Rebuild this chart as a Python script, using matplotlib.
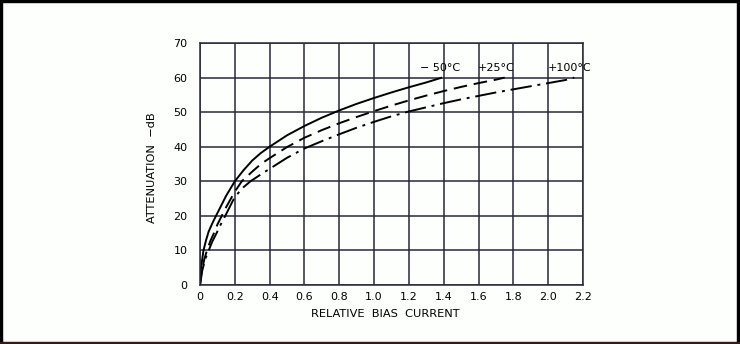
import matplotlib
matplotlib.use("Agg")
import matplotlib.pyplot as plt
from matplotlib.patches import Rectangle

# данные (ток смещения -> затухание, дБ)
bias_m50 = [0, 0.005, 0.01, 0.02, 0.035, 0.05, 0.075, 0.1, 0.15, 0.2, 0.25, 0.3, 0.35,
            0.4, 0.5, 0.6, 0.7, 0.8, 0.9, 1.0, 1.1, 1.2, 1.3, 1.39]
att_m50 = [0, 4.5, 6.5, 10, 13, 15.5, 18.3, 20.8, 25.8, 30, 33.2, 36, 38.2,
           40, 43.3, 46, 48.4, 50.5, 52.4, 54.1, 55.7, 57.2, 58.6, 60]

bias_p25 = [0, 0.01, 0.025, 0.04, 0.06, 0.08, 0.1, 0.125, 0.15, 0.2, 0.24, 0.3, 0.35,
            0.4, 0.5, 0.6, 0.7, 0.8, 0.9, 1.0, 1.1, 1.2, 1.3, 1.4, 1.5, 1.6, 1.7, 1.75]
att_p25 = [0, 4, 7.5, 10, 12.8, 15, 17.5, 20, 22.5, 27, 30, 32.8, 35,
           36.7, 39.9, 42.6, 44.8, 46.8, 48.6, 50.3, 51.9, 53.4, 54.8, 56.1, 57.3, 58.4, 59.4, 60]

bias_p100 = [0, 0.012, 0.03, 0.05, 0.07, 0.095, 0.12, 0.145, 0.2, 0.25, 0.29, 0.35, 0.4,
             0.5, 0.6, 0.7, 0.8, 0.9, 1.0, 1.1, 1.2, 1.3, 1.4, 1.5, 1.6, 1.7, 1.8, 1.9,
             2.0, 2.1, 2.15]
att_p100 = [0, 4, 7.5, 10, 12.5, 15, 17.6, 20, 25.5, 28.3, 30, 32, 33.6,
            36.8, 39.5, 41.6, 43.6, 45.5, 47.2, 48.8, 50.2, 51.4, 52.6, 53.7, 54.7, 55.7, 56.6, 57.5,
            58.4, 59.3, 60]

curve_labels = ["\u2212 50\u00b0C", "+25\u00b0C", "+100\u00b0C"]
label_x = [1.38, 1.70, 2.125]
label_y = 61.2

x_ticks = [0, 0.2, 0.4, 0.6, 0.8, 1.0, 1.2, 1.4, 1.6, 1.8, 2.0, 2.2]
x_tick_labels = ["0", "0.2", "0.4", "0.6", "0.8", "1.0", "1.2", "1.4", "1.6", "1.8", "2.0", "2.2"]
y_ticks = [0, 10, 20, 30, 40, 50, 60, 70]

bg = "#fcfffc"
grid_col = "#28283c"

fig = plt.figure(figsize=(7.4, 3.44), dpi=100, facecolor=bg)
ax = fig.add_axes([200 / 740, 59 / 344, 383 / 740, 242 / 344])
ax.set_facecolor(bg)

ax.plot(bias_m50, att_m50, color="black", lw=1.4, solid_capstyle="butt")
ax.plot(bias_p25, att_p25, color="black", lw=1.4, dashes=(7, 3.5))
ax.plot(bias_p100, att_p100, color="black", lw=1.4, dashes=(11, 3, 1.5, 3))

for lab, lx in zip(curve_labels, label_x):
    ax.text(lx, label_y, lab, ha="center", va="bottom", fontsize=8)

ax.set_xlim(0, 2.2)
ax.set_ylim(0, 70)
ax.set_xticks(x_ticks)
ax.set_xticklabels(x_tick_labels)
ax.set_yticks(y_ticks)
ax.tick_params(length=0, labelsize=8)
ax.tick_params(axis="x", pad=5)
ax.tick_params(axis="y", pad=9)
ax.grid(True, color=grid_col, lw=1.1)
for s in ax.spines.values():
    s.set_color(grid_col)
    s.set_linewidth(1.1)

fig.text(385 / 740, 1 - 314 / 344, "RELATIVE  BIAS  CURRENT", ha="center", va="center",
         fontsize=8.2)
fig.text(152 / 740, 1 - 168 / 344, "ATTENUATION  \u2212dB", rotation=90,
         ha="center", va="center", fontsize=8.2)

# рамка вокруг картинки
fig.patches.append(Rectangle((0, 1 - 2 / 344), 1, 2 / 344, transform=fig.transFigure, color="black"))
fig.patches.append(Rectangle((0, 0), 2 / 740, 1, transform=fig.transFigure, color="black"))
fig.patches.append(Rectangle((1 - 3 / 740, 0), 3 / 740, 1, transform=fig.transFigure, color="black"))
fig.patches.append(Rectangle((0, 0), 1, 2 / 344, transform=fig.transFigure, color="#3a1616"))

fig.savefig("out.png", dpi=100, facecolor=bg)
